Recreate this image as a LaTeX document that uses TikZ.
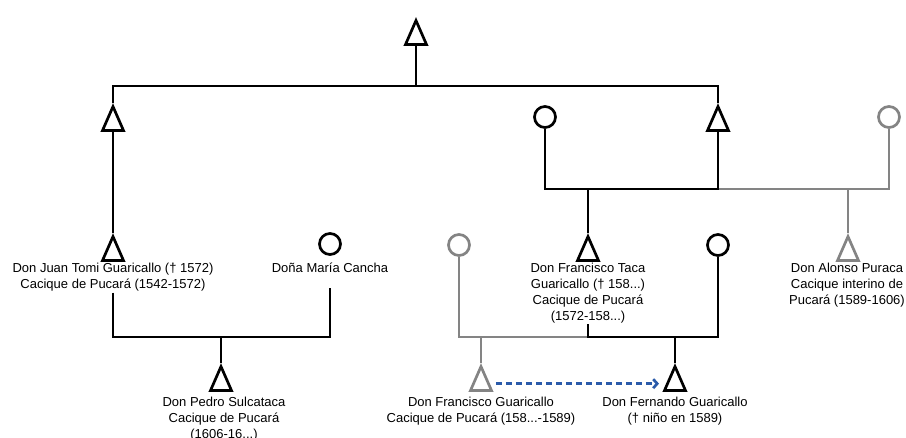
\documentclass[tikz,border=0pt]{standalone}
\usepackage{fontspec}
\setmainfont{Liberation Sans}
\usetikzlibrary{shapes.geometric,arrows.meta}
\definecolor{kgray}{HTML}{848484}
\definecolor{kblue}{HTML}{2B5BAA}
\begin{document}
\begin{tikzpicture}[x=1pt,y=-1pt,
  line width=2.7pt, line join=miter,
  male/.style={draw, shape=isosceles triangle, shape border rotate=90,
    isosceles triangle stretches, minimum width=21pt, minimum height=24pt,
    inner sep=0pt, anchor=apex},
  female/.style={draw, circle, minimum size=21pt, inner sep=0pt},
  lbl/.style={align=center, font=\fontsize{13}{15.8}\selectfont, inner sep=0pt, anchor=north, text=black},
  gr/.style={draw=kgray},
  succ/.style={draw=kblue, dash pattern=on 6pt off 4pt, -{Straight Barb[length=4pt,width=9pt]}}
]
\useasboundingbox (0,0) rectangle (906,437);

% generation 0
\node[male] (t0) at (416,17) {};
\coordinate (b0L) at (113,86);
\coordinate (b0R) at (718,86);
\node[male] (tL) at (113,103) {};
\node[male] (tR) at (718,103) {};
\draw (t0.south) -- (t0.south |- b0L);
\draw (tL.apex) -- (b0L) -- (b0R) -- (tR.apex);

% generation 1 right
\node[female] (w1) at (545,117) {};
\node[female, gr] (w2) at (889,117) {};
\coordinate (b1M) at (718,189);
\coordinate (b1c) at (588,189);
\coordinate (b1g) at (848,189);
\draw[kgray] (b1M) -| (w2.south);
\draw (w1.south) |- (b1M) -- (tR.south);

% generation 2 left
\node[male] (ju) at (113,233) {};
\draw (tL.south) -- (ju.apex);
\node[lbl] (jut) at (113,262) {Don Juan Tomi Guaricallo († 1572)\\Cacique de Pucará (1542-1572)};
\node[female] (ma) at (330,244) {};
\node[lbl] (mat) at (330,262) {Doña María Cancha};
\coordinate (mab) at (330,288);
\coordinate (b2) at (221,337);
\draw (ju |- jut.south) |- (b2) -| (mab);

\node[male] (pe) at (221,363) {};
\draw (b2) -- (pe.apex);
\node[lbl] (pet) at (224,396) {Don Pedro Sulcataca\\Cacique de Pucará\\(1606-16...)};

% generation 2 right
\node[male] (ft) at (588,233) {};
\draw (b1c) -- (ft.apex);
\node[lbl] (ftt) at (588,262) {Don Francisco Taca\\Guaricallo († 158...)\\Cacique de Pucará\\(1572-158...)};
\node[male, gr] (al) at (848,233) {};
\draw[kgray] (b1g) -- (al.apex);
\node[lbl] (alt) at (847,262) {Don Alonso Puraca\\Cacique interino de\\Pucará (1589-1606)};

\node[female, gr] (w3) at (459,245) {};
\node[female] (w4) at (718,245) {};
\coordinate (b3) at (588,337);
\coordinate (b3g) at (481,337);
\coordinate (b3k) at (675,337);
\draw[kgray] (b3) -| (w3.south);
\draw (ft |- ftt.south) -- (b3) -| (w4.south);

% generation 3
\node[male, gr] (fg) at (481,363) {};
\node[male] (fe) at (675,363) {};
\draw[kgray] (b3g) -- (fg.apex);
\draw (b3k) -- (fe.apex);
\node[lbl] (fgt) at (481,396) {Don Francisco Guaricallo\\Cacique de Pucará (158...-1589)};
\node[lbl] (fet) at (675,396) {Don Fernando Guaricallo\\(† niño en 1589)};
\draw[succ, shorten <=6pt, shorten >=7pt] (fg.east) -- (fe.west);
\end{tikzpicture}
\end{document}
